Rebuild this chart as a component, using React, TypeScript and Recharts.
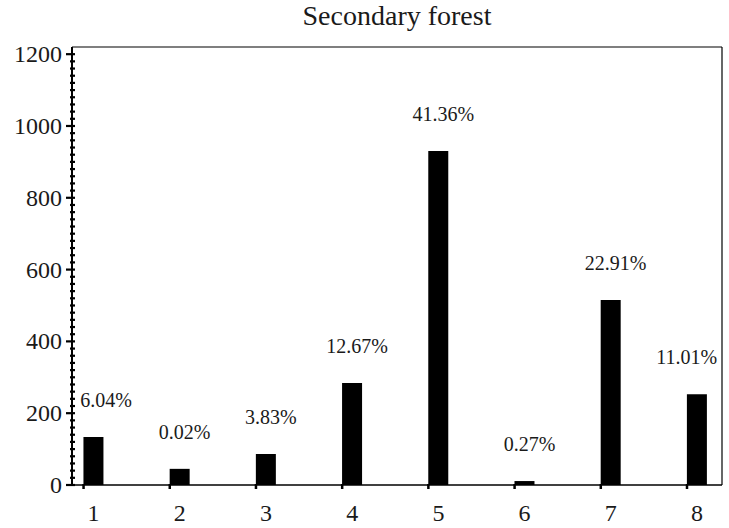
import { Bar, BarChart, LabelList, ReferenceLine, XAxis, YAxis } from 'recharts'

const FONT = '"Liberation Serif", "Times New Roman", serif'
const INK = '#1a1a1a'

// land-cover classes and pixel counts
const CLASSES = [1, 2, 3, 4, 5, 6, 7, 8]
const COUNTS = [134, 45, 86, 284, 930, 11, 515, 253]
const SHARES = ['6.04%', '0.02%', '3.83%', '12.67%', '41.36%', '0.27%', '22.91%', '11.01%']

const MAJOR_TICKS = [0, 200, 400, 600, 800, 1000, 1200]
const MINOR_STEP = 20
const Y_MAX = 1220
const X_DOMAIN: [number, number] = [0.75, 8.29]

const rows = CLASSES.map((cls, i) => ({ cls, count: COUNTS[i], share: SHARES[i] }))

const yTicks: number[] = []
for (let v = 0; v <= MAJOR_TICKS[MAJOR_TICKS.length - 1]; v += MINOR_STEP) yTicks.push(v)

const BAR_SIZE = 20
const PLOT_LEFT = 72
const PLOT_RIGHT = 722

function ClassTick(props: any) {
  const { x, y, payload } = props
  return (
    <g>
      <line x1={x - BAR_SIZE / 2} x2={x - BAR_SIZE / 2} y1={y - 1} y2={y + 4} stroke="#000" strokeWidth={2.5} />
      <text x={x} y={y + 36} textAnchor="middle" fontFamily={FONT} fontSize={24} fill={INK}>
        {payload.value}
      </text>
    </g>
  )
}

function ValueTick(props: any) {
  const { x, y, payload } = props
  const major = MAJOR_TICKS.includes(payload.value)
  return (
    <g>
      <line x1={major ? x - 6 : x - 2} x2={x + 3} y1={y} y2={y} stroke="#000" strokeWidth={2.2} />
      {major && (
        <text x={x - 10} y={y + 8} textAnchor="end" fontFamily={FONT} fontSize={24} fill={INK}>
          {payload.value}
        </text>
      )}
    </g>
  )
}

// percentage label sitting ~30px above the bar, kept inside the frame
function ShareLabel(props: any) {
  const { x, y, width, value } = props
  const half = String(value).length * 5.2
  let cx = x + width / 2 + 5
  if (cx + half > PLOT_RIGHT - 4) cx = PLOT_RIGHT - 4 - half
  if (cx - half < PLOT_LEFT + 8) cx = PLOT_LEFT + 8 + half
  return (
    <text x={cx} y={y - 30} textAnchor="middle" fontFamily={FONT} fontSize={20} fill={INK}>
      {value}
    </text>
  )
}

export default function App() {
  return (
    <div style={{ position: 'absolute', left: 0, top: 0, width: 729, height: 528, background: '#fff' }}>
      <div
        style={{
          position: 'absolute',
          left: 72,
          width: 650,
          top: 2,
          textAlign: 'center',
          fontFamily: FONT,
          fontSize: 28,
          lineHeight: 1,
          color: INK,
        }}
      >
        Secondary forest
      </div>
      <BarChart width={729} height={528} data={rows} margin={{ top: 47, right: 7, bottom: 0, left: 0 }}>
        <XAxis
          dataKey="cls"
          type="number"
          domain={X_DOMAIN}
          allowDataOverflow
          ticks={CLASSES}
          interval={0}
          height={43}
          tickSize={0}
          tickMargin={0}
          tickLine={false}
          axisLine={{ stroke: '#000', strokeWidth: 1.5 }}
          tick={(p: any) => <ClassTick {...p} />}
        />
        <YAxis
          type="number"
          domain={[0, Y_MAX]}
          allowDataOverflow
          ticks={yTicks}
          interval={0}
          width={72}
          tickSize={0}
          tickMargin={0}
          tickLine={false}
          axisLine={{ stroke: '#000', strokeWidth: 2 }}
          tick={(p: any) => <ValueTick {...p} />}
        />
        <ReferenceLine y={Y_MAX} stroke="#000" strokeWidth={1.2} />
        <ReferenceLine x={X_DOMAIN[1]} stroke="#000" strokeWidth={1.2} />
        <Bar dataKey="count" barSize={BAR_SIZE} fill="#000" isAnimationActive={false}>
          <LabelList dataKey="share" content={(p: any) => <ShareLabel {...p} />} />
        </Bar>
      </BarChart>
    </div>
  )
}
